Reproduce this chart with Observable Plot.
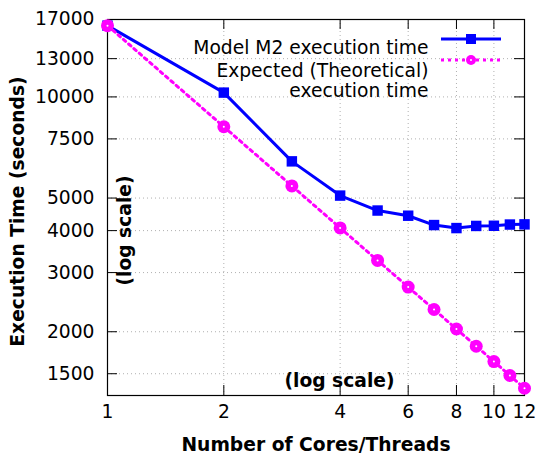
<!DOCTYPE html>
<html><head><meta charset="utf-8">
<script src="https://cdn.jsdelivr.net/npm/d3@7"></script>
<script src="https://cdn.jsdelivr.net/npm/@observablehq/plot@0.6"></script>
<style>body{margin:0;background:#fff}</style>
</head><body><div id="chart"></div>
<script>
const cores = [1, 2, 3, 4, 5, 6, 7, 8, 9, 10, 11, 12];
const modelM2 = [16300, 10300, 6430, 5085, 4590, 4430, 4155, 4070, 4130, 4135, 4170, 4175];
const expected = [16300, 8150, 5433, 4075, 3260, 2717, 2329, 2038, 1811, 1630, 1482, 1358];
const xTicks = [1, 2, 4, 6, 8, 10, 12];
const yTicks = [1500, 2000, 3000, 4000, 5000, 7500, 10000, 13000, 17000];
const seriesNames = ["Model M2 execution time", "Expected (Theoretical)", "execution time"];
const xTitle = "Number of Cores/Threads";
const yTitle = "Execution Time (seconds)";
const scaleNote = "(log scale)";

const BLUE = "#0000ff", MAG = "#ff00ff";
const W = 540, H = 458, mL = 107, mR = 16, mT = 19, mB = 63;
const iW = W - mL - mR, iH = H - mT - mB;
const rows = cores.map((c, i) => ({cores: c, m2: modelM2[i], exp: expected[i]}));
const FS = 18.7;
const DASH = "3,4";

const chart = Plot.plot({
  width: W, height: H,
  marginLeft: mL, marginRight: mR, marginTop: mT, marginBottom: mB,
  style: {fontFamily: "'DejaVu Sans', sans-serif", fontSize: FS + "px", color: "#000", background: "#fff"},
  x: {type: "log", domain: [1, 12], label: null, axis: null},
  y: {type: "log", domain: [1292, 17000], label: null, axis: null},
  marks: [
    Plot.gridX(xTicks.slice(1, -1), {stroke: "#b0b0b0", strokeOpacity: 1, strokeWidth: 1, strokeDasharray: "1,3"}),
    Plot.gridY(yTicks.slice(0, -1), {stroke: "#b0b0b0", strokeOpacity: 1, strokeWidth: 1, strokeDasharray: "1,3"}),
    Plot.tickX(xTicks.slice(1, -1), {x: d => d, insetTop: iH - 10, stroke: "#000"}),
    Plot.tickX(xTicks.slice(1, -1), {x: d => d, insetBottom: iH - 10, stroke: "#000"}),
    Plot.tickY(yTicks, {y: d => d, insetRight: iW - 10, stroke: "#000"}),
    Plot.tickY(yTicks, {y: d => d, insetLeft: iW - 10, stroke: "#000"}),
    Plot.frame({stroke: "#000", strokeWidth: 1.2}),
    Plot.text(xTicks, {x: d => d, text: d => String(d), frameAnchor: "bottom", dy: 22.1, fontSize: FS, fill: "#000"}),
    Plot.text(yTicks, {y: d => d, text: d => String(d), frameAnchor: "left", textAnchor: "end", dx: -13, fontSize: FS, fill: "#000"}),
    Plot.text([xTitle], {frameAnchor: "bottom", dy: 55.1, fontWeight: "bold", fontSize: FS}),
    Plot.text([yTitle], {frameAnchor: "left", textAnchor: "middle", dx: -89.5, dy: 4, rotate: -90, fontWeight: "bold", fontSize: FS}),
    Plot.text([scaleNote], {frameAnchor: "left", textAnchor: "middle", dx: 18, dy: 23, rotate: -90, fontWeight: "bold", fontSize: FS}),
    Plot.text([scaleNote], {frameAnchor: "bottom", dx: 23.5, dy: -8.9, fontWeight: "bold", fontSize: FS}),
    Plot.line(rows, {x: "cores", y: "m2", stroke: BLUE, strokeWidth: 3}),
    Plot.dot(rows, {x: "cores", y: "m2", symbol: "square", fill: BLUE, r: 5.9}),
    Plot.line(rows, {x: "cores", y: "exp", stroke: MAG, strokeWidth: 3, strokeDasharray: DASH}),
    Plot.dot(rows, {x: "cores", y: "exp", symbol: "circle", fill: MAG, r: 6.5}),
    Plot.dot(rows, {x: "cores", y: "exp", symbol: "circle", fill: "#fff", r: 1}),
    Plot.text([seriesNames[0]], {frameAnchor: "top-right", textAnchor: "end", dx: -96, dy: 21.1, fontSize: FS}),
    Plot.text([seriesNames[1]], {frameAnchor: "top-right", textAnchor: "end", dx: -96, dy: 44.4, fontSize: FS}),
    Plot.text([seriesNames[2]], {frameAnchor: "top-right", textAnchor: "end", dx: -96, dy: 64.1, fontSize: FS})
  ]
});
document.getElementById("chart").appendChild(chart);

// legend samples
const svg = d3.select(chart);
const g = svg.append("g");
const lx0 = W - mR - 83, lx1 = W - mR - 23, lxm = (lx0 + lx1) / 2;
const ly1 = mT + 20, ly2 = mT + 41;
g.append("line").attr("x1", lx0).attr("x2", lx1).attr("y1", ly1).attr("y2", ly1)
  .attr("stroke", BLUE).attr("stroke-width", 3);
g.append("rect").attr("x", lxm - 5).attr("y", ly1 - 5).attr("width", 10).attr("height", 10).attr("fill", BLUE);
g.append("line").attr("x1", lx0).attr("x2", lx1).attr("y1", ly2).attr("y2", ly2)
  .attr("stroke", MAG).attr("stroke-width", 3).attr("stroke-dasharray", DASH);
g.append("circle").attr("cx", lxm).attr("cy", ly2).attr("r", 5).attr("fill", MAG);
g.append("circle").attr("cx", lxm).attr("cy", ly2).attr("r", 1).attr("fill", "#fff");
</script>
</body></html>
